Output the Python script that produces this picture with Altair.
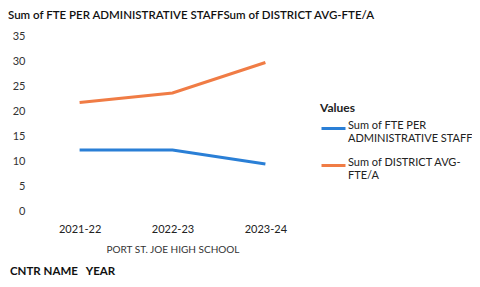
import altair as alt
import pandas as pd

years = ["2021-22", "2022-23", "2023-24"]
series_names = ["Sum of FTE PER ADMINISTRATIVE STAFF", "Sum of DISTRICT AVG-FTE/A"]
fte_admin = [12.2, 12.2, 9.4]
district_avg = [21.7, 23.6, 29.7]
colors = ["#2a7fd6", "#f07c45"]
y_ticks = [0, 5, 10, 15, 20, 25, 30, 35]

rows = []
for i, y in enumerate(years):
    rows.append({"YEAR": y, "Series": series_names[0], "Value": fte_admin[i]})
    rows.append({"YEAR": y, "Series": series_names[1], "Value": district_avg[i]})
df = pd.DataFrame(rows)

FONT = "Lato"
W, H = 275, 175

lines = alt.Chart(df).mark_line(strokeWidth=3).encode(
    x=alt.X("YEAR:O", sort=years,
            scale=alt.Scale(type="point", padding=0.48),
            axis=alt.Axis(title="PORT ST. JOE HIGH SCHOOL", labelAngle=0, domain=False,
                          ticks=False, labelPadding=12, titlePadding=10,
                          labelFontSize=11, titleFontSize=10, titleFontWeight="normal",
                          labelColor="#222", titleColor="#333")),
    y=alt.Y("Value:Q", scale=alt.Scale(domain=[0, 35], nice=False),
            axis=alt.Axis(title=None, values=y_ticks, domain=False, ticks=False, grid=False,
                          labelPadding=10, labelFontSize=11, labelColor="#333")),
    color=alt.Color("Series:N", sort=series_names,
                    scale=alt.Scale(domain=series_names, range=colors),
                    legend=alt.Legend(
                        title="Values", orient="none", legendX=285, legendY=67,
                        symbolType="stroke", symbolStrokeWidth=3, symbolSize=576,
                        titleFontSize=12, titleFontWeight="bold", titleColor="#222",
                        labelFontSize=11, labelColor="#222", rowPadding=8,
                        titlePadding=0, labelLimit=250,
                        labelExpr="datum.label == 'Sum of FTE PER ADMINISTRATIVE STAFF' ? ['Sum of FTE PER', 'ADMINISTRATIVE STAFF'] : ['Sum of DISTRICT AVG-', 'FTE/A']",
                        labelOffset=1, labelBaseline="alphabetic")),
)

title_txt = alt.Chart(pd.DataFrame({"t": ["Sum of FTE PER ADMINISTRATIVE STAFFSum of DISTRICT AVG-FTE/A"]})).mark_text(
    align="left", baseline="middle", fontSize=11.5, fontWeight=600, font=FONT, color="#111"
).encode(text="t:N", x=alt.value(-27), y=alt.value(-20))

footer = alt.Chart(pd.DataFrame({"t": ["CNTR NAME\u00a0\u00a0\u00a0YEAR"]})).mark_text(
    align="left", baseline="middle", fontSize=11.5, fontWeight="bold", font=FONT, color="#111"
).encode(text="t:N", x=alt.value(-25), y=alt.value(236))

chart = alt.layer(lines, title_txt, footer).properties(
    width=W, height=H,
    padding={"left": 27, "top": 28, "right": 162, "bottom": 68},
    autosize=alt.AutoSizeParams(type="none"),
).configure(font=FONT).configure_view(stroke=None)

chart.save("out.html", embed_options={"renderer": "svg", "actions": False})
